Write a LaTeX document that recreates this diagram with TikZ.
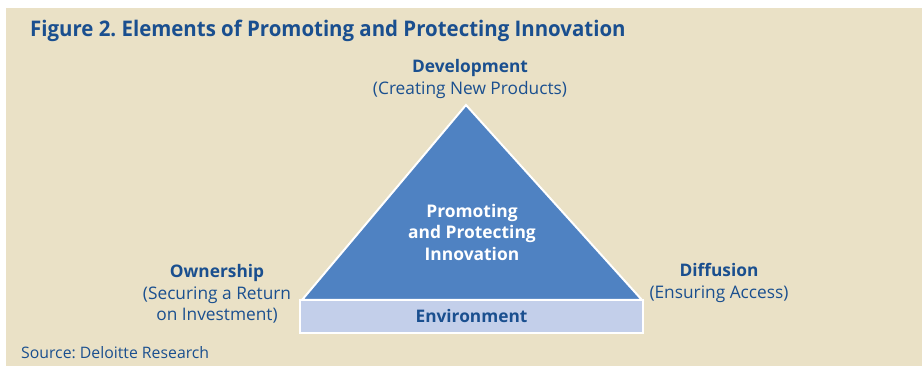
\documentclass[tikz,border=0pt]{standalone}
\usepackage{fontspec}
\setmainfont{Open Sans}
\newfontfamily\condfont[FakeStretch=0.95]{Open Sans}
\usetikzlibrary{positioning}
\frenchspacing

\definecolor{panel}{HTML}{EAE1C6}
\definecolor{inkblue}{HTML}{1A4F8F}
\definecolor{triblue}{HTML}{4F82C2}
\definecolor{envblue}{HTML}{C3CFEA}

\begin{document}
\begin{tikzpicture}[
    x=1pt, y=-1pt,
    corner/.style={align=center, text=inkblue, font=\fontsize{17.3}{21.5}\selectfont, inner sep=0pt},
    env/.style={draw=white, line width=2pt, fill=envblue, minimum width=343pt,
                minimum height=33pt, inner sep=0pt, text=inkblue,
                font=\fontsize{17.3}{20}\selectfont\bfseries}
  ]

  % ---- page and panel ----
  \useasboundingbox (0,0) rectangle (922,366);
  \fill[white] (0,0) rectangle (922,366);
  \fill[panel] (6,8) rectangle (922,366);

  \node[anchor=west, text=inkblue, inner sep=0pt,
        font=\condfont\fontsize{21.5}{24}\selectfont\bfseries] (title) at (30,31)
    {Figure 2. Elements of Promoting and Protecting Innovation};

  % ---- triangle on its base ----
  \coordinate (apex) at (466,105);
  \coordinate (bl) at (302,300);
  \coordinate (br) at (642,300);
  \draw[white, line width=2pt, fill=triblue, line join=miter] (apex) -- (bl) -- (br) -- cycle;
  \node[align=center, text=white, font=\fontsize{17.4}{21.5}\selectfont\bfseries]
    (core) at (472,232) {Promoting\\and Protecting\\Innovation};

  \node[env] (envbox) at (471.5,316.5) {Environment};

  % ---- corner labels ----
  \node[corner] (dev) at (470,79) {{\bfseries Development}\\(Creating New Products)};
  \node[corner] (own) at (217,294) {{\bfseries Ownership}\\(Securing a Return\\on Investment)};
  \node[corner] (dif) at (719,283) {{\bfseries Diffusion}\\(Ensuring Access)};

  \node[anchor=west, text=inkblue, inner sep=0pt, font=\fontsize{15.8}{18}\selectfont]
    (src) at (21,353) {Source: Deloitte Research};

\end{tikzpicture}
\end{document}
